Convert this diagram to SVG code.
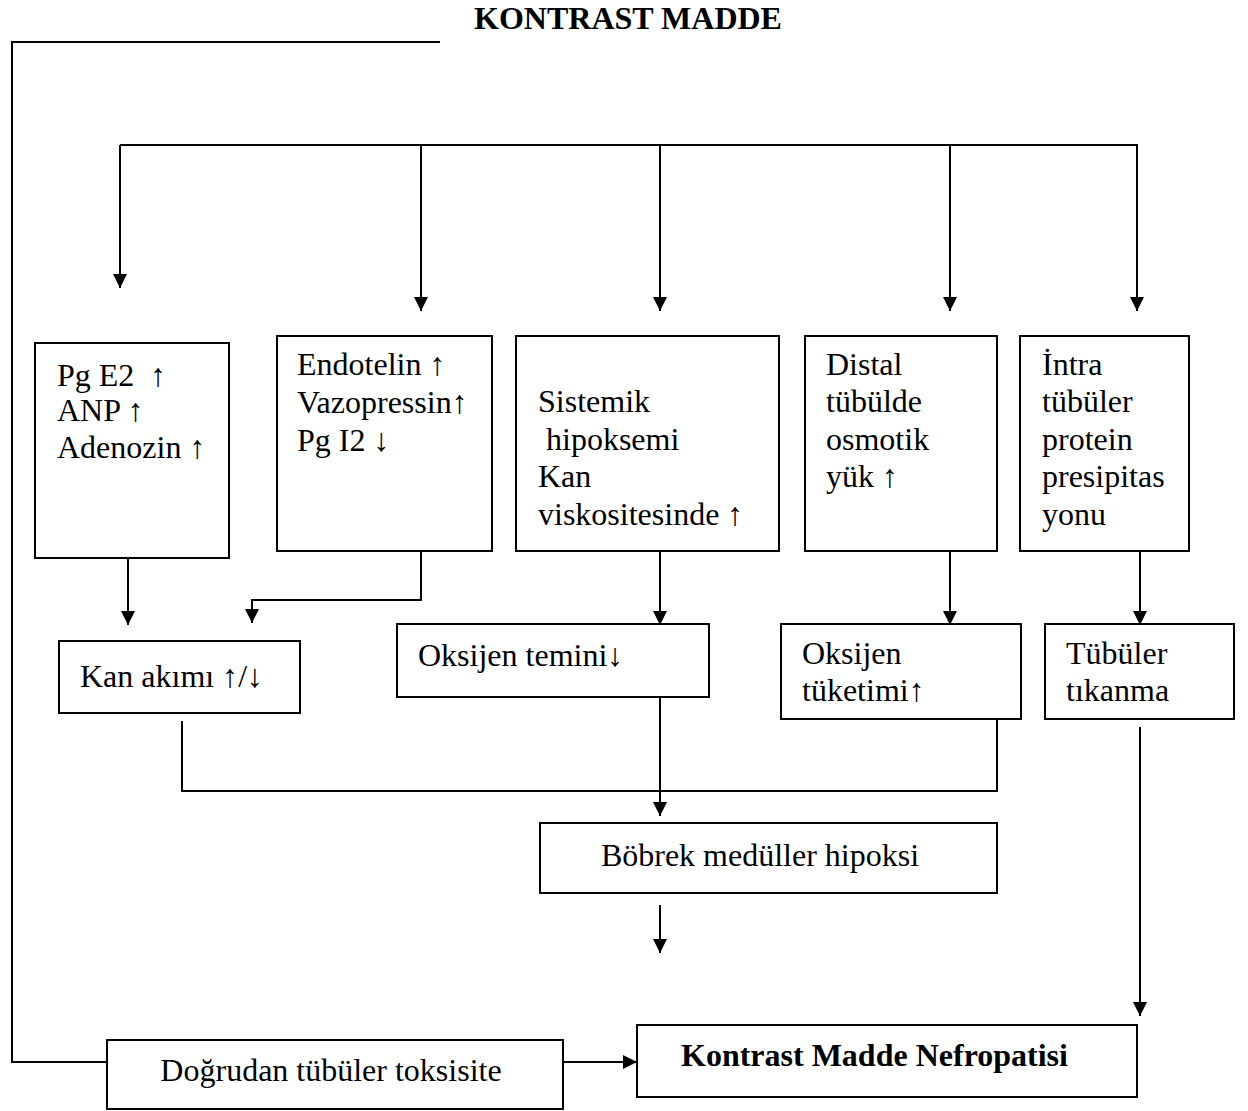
<svg xmlns="http://www.w3.org/2000/svg" width="1248" height="1111" viewBox="0 0 1248 1111">
<style>
  .box { fill: #ffffff; stroke: #000000; stroke-width: 2; }
  .t { font-family: "Liberation Serif", "Times New Roman", serif; font-size: 32px; fill: #000000; }
  .b { font-family: "Liberation Serif", "Times New Roman", serif; font-size: 32px; font-weight: bold; fill: #000000; }
  .ln { fill: none; stroke: #000000; stroke-width: 2; }
</style>
<defs>
  <marker id="ah" markerUnits="userSpaceOnUse" markerWidth="16" markerHeight="18" refX="14" refY="7" orient="auto">
    <path d="M0,0 L14,7 L0,14 Z" fill="#000000"/>
  </marker>
</defs>
<rect width="1248" height="1111" fill="#ffffff"/>

<text id="title" class="b" x="628" y="29" text-anchor="middle">KONTRAST MADDE</text>

<g id="connectors">
  <polyline class="ln" points="440,42 12,42 12,1062 107,1062"/>
  <line class="ln" x1="120" y1="145" x2="1138" y2="145"/>
  <line class="ln" x1="120" y1="145" x2="120" y2="288" marker-end="url(#ah)"/>
  <line class="ln" x1="421" y1="145" x2="421" y2="311" marker-end="url(#ah)"/>
  <line class="ln" x1="660" y1="145" x2="660" y2="311" marker-end="url(#ah)"/>
  <line class="ln" x1="950" y1="145" x2="950" y2="311" marker-end="url(#ah)"/>
  <line class="ln" x1="1137" y1="145" x2="1137" y2="311" marker-end="url(#ah)"/>

  <line class="ln" x1="128" y1="558" x2="128" y2="625" marker-end="url(#ah)"/>
  <polyline class="ln" points="421,551 421,600 252,600 252,623" marker-end="url(#ah)"/>
  <line class="ln" x1="660" y1="551" x2="660" y2="625" marker-end="url(#ah)"/>
  <line class="ln" x1="950" y1="551" x2="950" y2="625" marker-end="url(#ah)"/>
  <line class="ln" x1="1140" y1="551" x2="1140" y2="625" marker-end="url(#ah)"/>

  <polyline class="ln" points="182,721 182,791 997,791 997,719"/>
  <line class="ln" x1="660" y1="694" x2="660" y2="816" marker-end="url(#ah)"/>
  <line class="ln" x1="660" y1="905" x2="660" y2="953" marker-end="url(#ah)"/>
  <line class="ln" x1="1140" y1="727" x2="1140" y2="1016" marker-end="url(#ah)"/>
  <line class="ln" x1="563" y1="1062" x2="637" y2="1062" marker-end="url(#ah)"/>
</g>

<g id="n-pge2">
  <rect class="box" x="35" y="343" width="194" height="215"/>
  <text class="t" x="57" y="386" xml:space="preserve">Pg E2  ↑</text>
  <text class="t" x="57" y="421">ANP ↑</text>
  <text class="t" x="57" y="458">Adenozin ↑</text>
</g>
<g id="n-endotelin">
  <rect class="box" x="277" y="336" width="215" height="215"/>
  <text class="t" x="297" y="375">Endotelin ↑</text>
  <text class="t" x="297" y="413">Vazopressin↑</text>
  <text class="t" x="297" y="451">Pg I2 ↓</text>
</g>
<g id="n-sistemik">
  <rect class="box" x="516" y="336" width="263" height="215"/>
  <text class="t" x="538" y="412">Sistemik</text>
  <text class="t" x="538" y="450" xml:space="preserve"> hipoksemi</text>
  <text class="t" x="538" y="487">Kan</text>
  <text class="t" x="538" y="525">viskositesinde ↑</text>
</g>
<g id="n-distal">
  <rect class="box" x="805" y="336" width="192" height="215"/>
  <text class="t" x="826" y="375">Distal</text>
  <text class="t" x="826" y="412">tübülde</text>
  <text class="t" x="826" y="450">osmotik</text>
  <text class="t" x="826" y="487">yük ↑</text>
</g>
<g id="n-intra">
  <rect class="box" x="1020" y="336" width="169" height="215"/>
  <text class="t" x="1042" y="375">İntra</text>
  <text class="t" x="1042" y="412">tübüler</text>
  <text class="t" x="1042" y="450">protein</text>
  <text class="t" x="1042" y="487">presipitas</text>
  <text class="t" x="1042" y="525">yonu</text>
</g>

<g id="n-kanakimi">
  <rect class="box" x="59" y="641" width="241" height="72"/>
  <text class="t" x="80" y="687">Kan akımı ↑/↓</text>
</g>
<g id="n-oksijen-temini">
  <rect class="box" x="397" y="624" width="312" height="73"/>
  <text class="t" x="418" y="666">Oksijen temini↓</text>
</g>
<g id="n-oksijen-tuketimi">
  <rect class="box" x="781" y="624" width="240" height="95"/>
  <text class="t" x="802" y="664">Oksijen</text>
  <text class="t" x="802" y="701">tüketimi↑</text>
</g>
<g id="n-tubuler-tikanma">
  <rect class="box" x="1045" y="624" width="189" height="95"/>
  <text class="t" x="1066" y="664">Tübüler</text>
  <text class="t" x="1066" y="701">tıkanma</text>
</g>

<g id="n-bobrek">
  <rect class="box" x="540" y="823" width="457" height="70"/>
  <text class="t" x="760" y="866" text-anchor="middle">Böbrek medüller hipoksi</text>
</g>
<g id="n-kmn">
  <rect class="box" x="637" y="1025" width="500" height="72"/>
  <text class="b" x="681" y="1066">Kontrast Madde Nefropatisi</text>
</g>
<g id="n-dogrudan">
  <rect class="box" x="107" y="1040" width="456" height="69"/>
  <text class="t" x="331" y="1081" text-anchor="middle">Doğrudan tübüler toksisite</text>
</g>
</svg>
